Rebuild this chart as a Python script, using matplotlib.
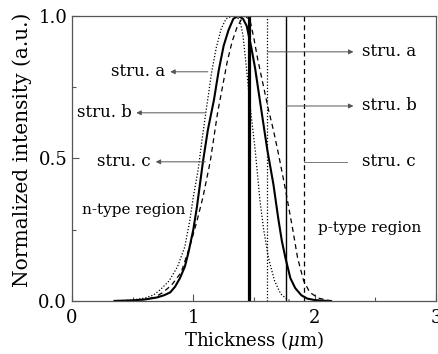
import matplotlib
matplotlib.use("Agg")
import matplotlib.pyplot as plt
from matplotlib.ticker import MultipleLocator

plt.rcParams["font.family"] = ["DejaVu Serif"]
plt.rcParams["mathtext.fontset"] = "dejavuserif"

# ── Datos ─────────────────────────────────────────────────
# stru. a (punteada)
xa = [0.40, 0.50, 0.60, 0.67, 0.73, 0.80, 0.87, 0.93, 0.97, 1.00, 1.04, 1.07, 1.11,
      1.15, 1.19, 1.23, 1.27, 1.32, 1.36, 1.385, 1.41, 1.43, 1.46, 1.48, 1.51, 1.55,
      1.58, 1.62, 1.67, 1.72, 1.76, 1.80]
ya = [0.0, 0.003, 0.01, 0.02, 0.04, 0.07, 0.12, 0.19, 0.28, 0.365, 0.46, 0.56, 0.68,
      0.80, 0.89, 0.955, 0.99, 1.0, 0.995, 0.985, 0.93, 0.85, 0.72, 0.64, 0.53, 0.35,
      0.25, 0.15, 0.07, 0.025, 0.01, 0.0]
# stru. b (sólida)
xb = [0.35, 0.50, 0.60, 0.70, 0.76, 0.81, 0.85, 0.89, 0.93, 0.96, 1.00, 1.03, 1.08,
      1.12, 1.17, 1.21, 1.25, 1.29, 1.33, 1.37, 1.41, 1.44, 1.48, 1.51, 1.55, 1.61,
      1.66, 1.70, 1.73, 1.76, 1.80, 1.84, 1.89, 1.94, 2.00, 2.10]
yb = [0.0, 0.002, 0.005, 0.012, 0.02, 0.03, 0.05, 0.08, 0.12, 0.17, 0.25, 0.33, 0.49,
      0.60, 0.705, 0.81, 0.895, 0.95, 0.99, 1.0, 0.99, 0.965, 0.885, 0.815, 0.70, 0.53,
      0.41, 0.29, 0.21, 0.15, 0.08, 0.045, 0.02, 0.008, 0.003, 0.0]
# stru. c (discontinua)
xc = [0.50, 0.60, 0.68, 0.75, 0.82, 0.90, 0.97, 1.03, 1.08, 1.14, 1.20, 1.24, 1.28,
      1.32, 1.36, 1.40, 1.43, 1.47, 1.50, 1.53, 1.57, 1.62, 1.66, 1.70, 1.76, 1.82,
      1.86, 1.91, 1.96, 2.03, 2.10, 2.15]
yc = [0.0, 0.005, 0.012, 0.03, 0.055, 0.10, 0.19, 0.28, 0.365, 0.49, 0.66, 0.75, 0.84,
      0.91, 0.96, 0.99, 1.0, 0.98, 0.92, 0.85, 0.77, 0.67, 0.60, 0.52, 0.39, 0.25,
      0.15, 0.07, 0.03, 0.01, 0.003, 0.0]

# interfaces
x_junction = 1.46
x_edge_a = 1.61
x_edge_b = 1.765
x_edge_c = 1.91

fig = plt.figure(figsize=(4.39, 3.54), dpi=100)
ax = fig.add_axes([0.164, 0.150, 0.829, 0.805])

ax.plot(xa, ya, color="black", lw=0.9, ls=(0, (1, 1.5)))
ax.plot(xb, yb, color="black", lw=1.5, ls="-")
ax.plot(xc, yc, color="black", lw=0.9, ls=(0, (4, 3)))

ax.axvline(x_junction, color="black", lw=2.3)
ax.axvline(x_edge_a, color="black", lw=0.9, ls=(0, (1, 1.5)))
ax.axvline(x_edge_b, color="black", lw=1.0)
ax.axvline(x_edge_c, color="black", lw=0.9, ls=(0, (4, 3)))

# ── Anotaciones ───────────────────────────────────────────
arrow = dict(arrowstyle="-|>", color="#555555", lw=0.7, mutation_scale=7,
             shrinkA=0, shrinkB=0)
fs = 12
left_notes = [("stru. a", 1.12, 0.81, 0.804), ("stru. b", 1.10, 0.53, 0.66),
              ("stru. c", 1.10, 0.69, 0.488)]
for txt, x0, x1, yy in left_notes:
    ax.annotate("", xy=(x1, yy), xytext=(x0, yy), arrowprops=arrow)
    ax.text(x1 - 0.04, yy, txt, ha="right", va="center", fontsize=fs)

right_notes = [("stru. a", x_edge_a, 2.32, 0.874), ("stru. b", x_edge_b, 2.32, 0.684)]
for txt, x0, x1, yy in right_notes:
    ax.annotate("", xy=(x1, yy), xytext=(x0, yy), arrowprops=arrow)
    ax.text(2.39, yy, txt, ha="left", va="center", fontsize=fs)
ax.plot([x_edge_c, 2.27], [0.488, 0.488], color="#777777", lw=0.7)
ax.text(2.39, 0.488, "stru. c", ha="left", va="center", fontsize=fs)

ax.text(0.08, 0.32, "n-type region", ha="left", va="center", fontsize=11)
ax.text(2.03, 0.256, "p-type region", ha="left", va="center", fontsize=11)

ax.set_xlim(0, 3)
ax.set_ylim(0, 1.0)
ax.xaxis.set_minor_locator(MultipleLocator(0.5))
ax.yaxis.set_minor_locator(MultipleLocator(0.25))
ax.set_xticks([0, 1, 2, 3], ["0", "1", "2", "3"])
ax.set_yticks([0.0, 0.5, 1.0], ["0.0", "0.5", "1.0"])
ax.tick_params(which="both", direction="in", labelsize=13, color="#555555")
ax.tick_params(which="major", length=5, width=0.8)
ax.tick_params(which="minor", length=3, width=0.8)
ax.tick_params(axis="x", pad=6)
for s in ax.spines.values():
    s.set_color("#555555")
    s.set_linewidth(0.9)

ax.set_xlabel(r"Thickness ($\mu$m)", fontsize=13, labelpad=1)
ax.set_ylabel("Normalized intensity (a.u.)", fontsize=14.5)
ax.yaxis.set_label_coords(-0.11, 0.53)

fig.savefig("out.png", dpi=100)
